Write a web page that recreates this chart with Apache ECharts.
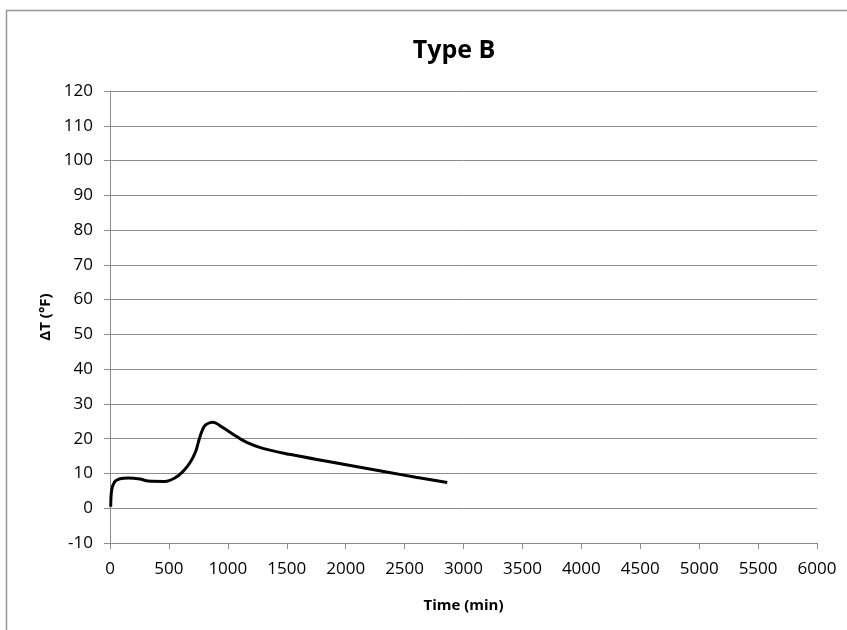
<!DOCTYPE html>
<html>
<head>
<meta charset="utf-8">
<script src="https://cdn.jsdelivr.net/npm/echarts@6/dist/echarts.min.js"></script>
<style>
  html, body { margin: 0; padding: 0; background: #fff; }
  #chart { width: 847px; height: 630px; }
</style>
</head>
<body>
<div id="chart"></div>
<script>
// time (min) and temperature rise
const timeMin = [6, 14, 42, 85, 155, 254, 324, 465, 550, 620, 677, 728, 761, 804, 874, 958, 1043, 1156, 1297, 1523, 1805, 2087, 2369, 2595, 2862]
const deltaT = [0.4, 5.2, 7.7, 8.5, 8.7, 8.4, 7.8, 7.7, 8.7, 10.6, 13, 16.4, 20.3, 23.7, 24.7, 23.2, 21.3, 19.0, 17.2, 15.5, 13.7, 12.0, 10.3, 8.9, 7.4]

const font = 'Open Sans'
const gray = '#8c8c8c'

const chart = echarts.init(document.getElementById('chart'))
chart.setOption({
  animation: false,
  textStyle: { fontFamily: font },
  graphic: [{
    type: 'rect',
    shape: { x: 6.5, y: 10.5, width: 900, height: 700 },
    style: { fill: 'none', stroke: '#999', lineWidth: 1.5 }
  }],
  title: {
    text: 'Type B',
    left: 449,
    textAlign: 'center',
    top: 33,
    textStyle: { fontFamily: font, fontSize: 25, fontWeight: 'bold', color: '#000' }
  },
  grid: { left: 110, right: 30, top: 91, bottom: 87 },
  xAxis: {
    type: 'value',
    min: 0,
    max: 6000,
    interval: 500,
    name: 'Time (min)',
    nameLocation: 'middle',
    nameGap: 55,
    nameTextStyle: { fontFamily: font, fontSize: 15, fontWeight: 'bold', color: '#000' },
    axisLine: { show: true, onZero: false, lineStyle: { color: gray, width: 1 } },
    axisTick: { show: true, length: 6, lineStyle: { color: gray } },
    axisLabel: { color: '#000', fontSize: 17, margin: 18, formatter: v => String(v) },
    splitLine: { show: false }
  },
  yAxis: {
    type: 'value',
    min: -10,
    max: 120,
    interval: 10,
    name: 'ΔT (°F)',
    nameLocation: 'middle',
    nameGap: 56,
    nameRotate: 90,
    nameTextStyle: { fontFamily: font, fontSize: 15, fontWeight: 'bold', color: '#000' },
    axisLine: { show: true, lineStyle: { color: gray, width: 1 } },
    axisTick: { show: true, length: 6, lineStyle: { color: gray } },
    axisLabel: { color: '#000', fontSize: 17, margin: 17 },
    splitLine: { show: true, lineStyle: { color: gray, width: 1 } }
  },
  series: [{
    type: 'line',
    data: timeMin.map((t, i) => [t, deltaT[i]]),
    smooth: 0.3,
    symbol: 'none',
    lineStyle: { color: '#000', width: 3 }
  }]
})
</script>
</body>
</html>
